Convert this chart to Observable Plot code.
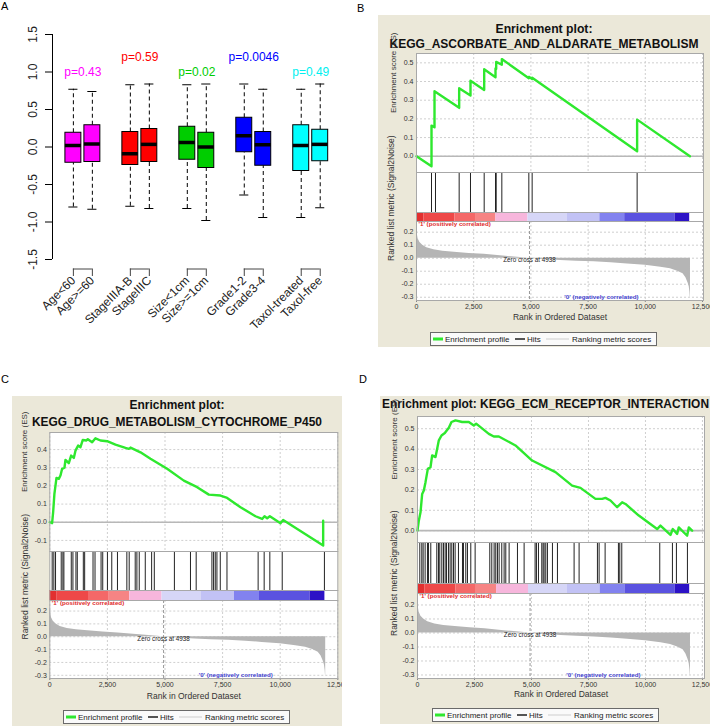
<!DOCTYPE html>
<html>
<head>
<meta charset="utf-8">
<script src="https://cdn.jsdelivr.net/npm/d3@7"></script>
<script src="https://cdn.jsdelivr.net/npm/@observablehq/plot@0.6"></script>
<style>
  body { margin: 0; background: #fff; font-family: "Liberation Sans", Arial, sans-serif; }
  #root { position: relative; width: 710px; height: 726px; overflow: hidden; background: #fff; }
  .lab { position: absolute; font-size: 11px; color: #000; }
</style>
</head>
<body>
<div id="root"></div>
<script>
// ---------------- Panel A data ----------------
const groupLabels = ["Age<60", "Age>=60", "StageIIIA-B", "StageIIIC", "Size<1cm", "Size>=1cm", "Grade1-2", "Grade3-4", "Taxol-treated", "Taxol-free"];
const boxMax    = [0.77, 0.74, 0.83, 0.84, 0.83, 0.84, 0.84, 0.77, 0.77, 0.84];
const boxQ3     = [0.19, 0.29, 0.20, 0.24, 0.27, 0.19, 0.39, 0.20, 0.29, 0.23];
const boxMedian = [0.02, 0.04, -0.09, 0.035, 0.06, 0.00, 0.15, 0.03, 0.02, 0.035];
const boxQ1     = [-0.21, -0.20, -0.24, -0.20, -0.17, -0.28, -0.07, -0.25, -0.32, -0.19];
const boxMin    = [-0.80, -0.83, -0.79, -0.82, -0.82, -0.98, -0.64, -0.94, -0.94, -0.81];
const pairColors = ["#ff00ff", "#ff0000", "#00cd00", "#0000ff", "#00f0f0"];
const boxFills   = ["#ff00ff", "#ff0000", "#00cd00", "#0000ff", "#00ffff"];
const pValueText = ["p=0.43", "p=0.59", "p=0.02", "p=0.0046", "p=0.49"];
const pValueY    = [1.0, 1.2, 1.0, 1.2, 1.0];
const yTicksA    = [-1.5, -1.0, -0.5, 0.0, 0.5, 1.0, 1.5];

// ---------------- GSEA shared data ----------------
const rankTicks = [0, 2500, 5000, 7500, 10000, 12500];
const metricTicks = [0.2, 0.1, 0.0, -0.1, -0.2, -0.3];
const metricRank  = [0, 30, 70, 150, 270, 450, 760, 1150, 1650, 2300, 2960, 3900, 4938, 5600, 6300, 7000, 7760, 8500, 9220, 10000, 10680, 11100, 11410, 11650, 11775, 11870, 11920, 11950, 11965, 11975];
const metricValue = [0.23, 0.19, 0.15, 0.12, 0.10, 0.08, 0.064, 0.054, 0.046, 0.037, 0.030, 0.015, 0.0, -0.010, -0.018, -0.023, -0.028, -0.035, -0.044, -0.055, -0.070, -0.082, -0.100, -0.120, -0.150, -0.190, -0.220, -0.260, -0.300, -0.300];
const zeroCross = 4938;
const barBreaks = [0, 320, 1680, 2580, 3470, 4870, 6580, 8015, 9100, 11300, 11940];
const barColors = ["#e23030", "#ee4848", "#f46868", "#f68484", "#f7b6dc", "#d6d6f7", "#c2c2f5", "#8282ef", "#5a52e0", "#2c12c6"];
const legendLabels = ["Enrichment profile", "Hits", "Ranking metric scores"];
const legendColors = ["#2ee82e", "#555555", "#dcdcdc"];

// ---------------- Panel B ----------------
const titleB = ["Enrichment plot:", "KEGG_ASCORBATE_AND_ALDARATE_METABOLISM"];
const esRankB  = [0, 656, 656, 787, 787, 1865, 1865, 2360, 2360, 2958, 2958, 3453, 3453, 3483, 3483, 3730, 3730, 4910, 4910, 5055, 5055, 9643, 9643, 11950];
const esValueB = [0, -0.054, 0.164, 0.155, 0.348, 0.259, 0.364, 0.325, 0.404, 0.355, 0.466, 0.423, 0.47, 0.468, 0.505, 0.49, 0.52, 0.418, 0.425, 0.413, 0.42, 0.027, 0.196, 0.0];
const hitsB = [656, 830, 1865, 2360, 2958, 3453, 3483, 3730, 4910, 5055, 9643];

// ---------------- Panel C ----------------
const titleC = ["Enrichment plot:", "KEGG_DRUG_METABOLISM_CYTOCHROME_P450"];
const esRankC  = [0, 100, 145, 200, 290, 390, 463, 535, 637, 680, 825, 926, 1042, 1114, 1230, 1331, 1432, 1592, 1650, 1838, 1982, 2200, 2489, 2850, 3285, 3430, 3502, 3936, 4370, 5093, 5817, 6396, 6902, 7409, 7698, 8277, 8928, 9217, 9319, 9434, 9550, 10013, 10129, 11865, 11865];
const esValueC = [0, -0.005, 0.055, 0.156, 0.244, 0.239, 0.257, 0.294, 0.30, 0.343, 0.325, 0.367, 0.354, 0.394, 0.422, 0.413, 0.453, 0.45, 0.457, 0.44, 0.462, 0.45, 0.446, 0.427, 0.409, 0.404, 0.411, 0.385, 0.349, 0.294, 0.229, 0.193, 0.152, 0.147, 0.134, 0.083, 0.033, 0.018, 0.033, 0.022, 0.033, -0.006, 0.013, -0.128, 0.009];
const hitsC = [103, 176, 249, 496, 568, 612, 932, 1004, 1135, 1193, 1455, 1513, 1876, 1963, 2225, 2298, 2501, 2690, 2937, 3344, 3446, 3707, 3780, 3882, 4144, 4420, 4536, 5408, 6106, 6353, 7036, 7109, 7181, 7254, 7399, 7690, 9042, 9304, 9550, 10088, 11919];

// ---------------- Panel D ----------------
const titleD = ["Enrichment plot: KEGG_ECM_RECEPTOR_INTERACTION"];
const esRankD  = [0, 58, 132, 205, 278, 351, 453, 570, 643, 789, 863, 936, 1053, 1199, 1374, 1491, 1667, 1959, 2251, 2471, 2573, 3129, 3348, 3567, 4298, 5029, 6053, 6784, 7149, 7807, 8099, 8246, 8465, 8757, 8977, 9123, 9708, 10512, 10658, 11097, 11199, 11389, 11462, 11828, 11901, 12047];
const esValueD = [0, 0.049, 0.09, 0.18, 0.197, 0.238, 0.303, 0.311, 0.369, 0.361, 0.402, 0.443, 0.467, 0.479, 0.505, 0.533, 0.541, 0.533, 0.533, 0.516, 0.525, 0.475, 0.462, 0.462, 0.418, 0.344, 0.287, 0.221, 0.21, 0.156, 0.156, 0.161, 0.148, 0.115, 0.139, 0.131, 0.074, 0.008, 0.025, -0.021, 0.008, -0.016, 0.016, -0.025, 0.016, 0.0];
const hitsD = [101, 189, 247, 335, 437, 481, 583, 846, 920, 978, 1066, 1139, 1212, 1271, 1358, 1431, 1504, 1578, 1651, 1797, 1973, 2016, 2118, 2192, 2338, 2528, 3171, 3259, 3361, 3434, 3508, 3581, 3697, 3800, 3873, 4019, 4385, 4677, 5159, 5218, 5306, 5452, 5510, 5554, 5627, 5700, 5920, 6139, 6870, 7089, 7893, 7967, 8230, 8814, 8873, 8961, 10627, 11183, 11358, 11841];

// ---------------- helpers ----------------
const FONT = "'Liberation Sans', Arial, sans-serif";
const BEIGE = "#ebe8d9";
const root = document.getElementById("root");
const plotStyle = {background: "transparent", overflow: "visible", fontFamily: FONT};
function place(el, x, y, parent = root) {
  el.style.position = "absolute";
  el.style.left = x + "px";
  el.style.top = y + "px";
  parent.appendChild(el);
  return el;
}
function label(text, x, y) {
  const d = document.createElement("div");
  d.className = "lab";
  d.textContent = text;
  d.style.left = x + "px";
  d.style.top = y + "px";
  root.appendChild(d);
}

// ---------------- Panel A ----------------
const posA = groupLabels.map((_, i) => Math.floor(i / 2) * 3 + (i % 2) + 1);
const boxData = groupLabels.map((g, i) => ({
  g, pos: posA[i], lo: boxMin[i], q1: boxQ1[i], med: boxMedian[i], q3: boxQ3[i], hi: boxMax[i],
  fill: boxFills[Math.floor(i / 2)]
}));
const pairData = pValueText.map((text, k) => ({text, a: posA[2 * k], b: posA[2 * k + 1], y: pValueY[k], color: pairColors[k]}));
const xMinA = -0.1;
const plotA = Plot.plot({
  width: 355, height: 340,
  marginLeft: 52, marginRight: 16.3, marginTop: 34, marginBottom: 71.5,
  x: {domain: [xMinA, 15], axis: null},
  y: {domain: [yTicksA[0], yTicksA[yTicksA.length - 1]], range: [259, 34], axis: null},
  color: {type: "identity"},
  style: {...plotStyle, fontSize: "12px"},
  marks: [
    Plot.ruleX([xMinA], {y1: yTicksA[0], y2: yTicksA[yTicksA.length - 1], stroke: "black"}),
    Plot.axisY({ticks: yTicksA, tickSize: 7, tickFormat: () => "", stroke: "black", label: null}),
    Plot.text(yTicksA, {x: xMinA, y: d => d, text: d => d.toFixed(1), rotate: -90, dx: -19, fontSize: 12, fill: "#222"}),
    Plot.ruleX(boxData, {x: "pos", y1: "q3", y2: "hi", stroke: "black", strokeDasharray: "4,3"}),
    Plot.ruleX(boxData, {x: "pos", y1: "lo", y2: "q1", stroke: "black", strokeDasharray: "4,3"}),
    Plot.ruleY(boxData, {y: "hi", x1: d => d.pos - 0.24, x2: d => d.pos + 0.24, stroke: "black"}),
    Plot.ruleY(boxData, {y: "lo", x1: d => d.pos - 0.24, x2: d => d.pos + 0.24, stroke: "black"}),
    Plot.rect(boxData, {x1: d => d.pos - 0.42, x2: d => d.pos + 0.42, y1: "q1", y2: "q3", fill: "fill", stroke: "black", strokeWidth: 1}),
    Plot.ruleY(boxData, {y: "med", x1: d => d.pos - 0.42, x2: d => d.pos + 0.42, stroke: "black", strokeWidth: 3.5}),
    Plot.text(pairData, {x: d => (d.a + d.b) / 2, y: "y", text: "text", fill: "color", fontSize: 12}),
    Plot.ruleY(pairData, {x1: "a", x2: "b", y: () => yTicksA[0], dy: 9.5, stroke: "#444"}),
    Plot.axisX({ticks: posA, tickSize: 7.5, tickPadding: 2, tickRotate: -45, fontSize: 12, stroke: "#444", fill: "#222", label: null,
      tickFormat: p => groupLabels[posA.indexOf(p)]})
  ]
});
place(plotA, 0, 0);

// ---------------- GSEA panel builder ----------------
function gseaPanel(cfg, titles, esRank, esValue, hits) {
  const W = cfg.R - cfg.L;
  const panel = document.createElement("div");
  panel.style.width = W + "px";
  panel.style.height = (cfg.B - cfg.T) + "px";
  panel.style.background = BEIGE;
  panel.style.overflow = "hidden";
  place(panel, cfg.L, cfg.T);
  const put = (el, y) => place(el, 0, y - cfg.T, panel);

  // titles
  const tsvg = d3.create("svg").attr("width", W).attr("height", 50).style("overflow", "visible");
  titles.forEach((t, i) => {
    tsvg.append("text").attr("x", cfg.tcx - cfg.L).attr("y", cfg.ty[i] - cfg.T)
      .attr("text-anchor", "middle").attr("font-family", FONT).attr("font-weight", "bold")
      .attr("font-size", 13).attr("textLength", cfg.tw[i]).attr("lengthAdjust", "spacingAndGlyphs")
      .attr("fill", "#111").text(t);
  });
  put(tsvg.node(), cfg.T);

  const base = {width: W, marginLeft: cfg.fx0 - cfg.L, marginRight: cfg.R - cfg.fx1, marginTop: 0, style: plotStyle};
  const x = {domain: [0, cfg.xMax], axis: null};
  const grid = {stroke: "#cfcfcf", strokeOpacity: 1, strokeDasharray: "2,2"};

  // ES plot
  const es = esRank.map((rank, i) => ({rank, value: esValue[i]}));
  const esPlot = Plot.plot({
    ...base, height: cfg.esBot - cfg.esTop, marginBottom: 0,
    x, y: {domain: cfg.esDomain, axis: null},
    marks: [
      Plot.frame({fill: "white"}),
      Plot.gridX({ticks: rankTicks, ...grid}),
      Plot.gridY({ticks: cfg.esTicks, ...grid}),
      Plot.ruleY([0], {stroke: "#b8b8b8", strokeWidth: 1.6}),
      Plot.axisY({ticks: cfg.esTicks, tickSize: 0, tickPadding: 3, fontSize: 7, fill: "#333", label: null, tickFormat: d => d.toFixed(1)}),
      Plot.line(es, {x: "rank", y: "value", stroke: "#2ee82e", strokeWidth: 2.4}),
      Plot.text(["Enrichment score (ES)"], {text: d => d, frameAnchor: "left", rotate: -90, dx: cfg.esLabelDx, fontSize: 8, fill: "#333"}),
      Plot.frame({stroke: "#a8a8a8"})
    ]
  });
  put(esPlot, cfg.esTop);

  // hits plot
  const hitsPlot = Plot.plot({
    ...base, height: cfg.barTop - cfg.esBot, marginBottom: 0,
    x,
    marks: [
      Plot.frame({fill: "white"}),
      Plot.ruleX(hits, {x: d => d, stroke: "#222", strokeWidth: 1, insetTop: 1}),
      Plot.frame({stroke: "#a8a8a8"})
    ]
  });
  put(hitsPlot, cfg.esBot);

  // colour bar
  const segs = barColors.map((c, i) => ({x1: barBreaks[i], x2: barBreaks[i + 1], c}));
  const barPlot = Plot.plot({
    ...base, height: cfg.barBot - cfg.barTop, marginBottom: 0,
    x, color: {type: "identity"},
    marks: [
      Plot.frame({fill: "white"}),
      Plot.rect(segs, {x1: "x1", x2: "x2", fill: "c", inset: 0}),
      Plot.frame({stroke: "#a8a8a8"})
    ]
  });
  put(barPlot, cfg.barTop);

  // ranked metric
  const met = metricRank.map((rank, i) => ({rank, value: metricValue[i]}));
  const metPlot = Plot.plot({
    ...base, height: cfg.metBot - cfg.barBot + 30, marginBottom: 30,
    x, y: {domain: [-0.325, 0.282], axis: null},
    marks: [
      Plot.frame({fill: "white"}),
      Plot.gridX({ticks: rankTicks, ...grid}),
      Plot.gridY({ticks: metricTicks, ...grid}),
      Plot.areaY(met, {x: "rank", y: "value", fill: "#b5b5b5"}),
      Plot.ruleX([zeroCross], {stroke: "#999", strokeDasharray: "3,2"}),
      Plot.axisY({ticks: metricTicks, tickSize: 0, tickPadding: 3, fontSize: 7, fill: "#333", label: null, tickFormat: d => d.toFixed(1)}),
      Plot.axisX({ticks: rankTicks, tickSize: 2, tickPadding: 2, fontSize: 7, fill: "#333", stroke: "#888", label: null, tickFormat: d3.format(",")}),
      Plot.text(["Rank in Ordered Dataset"], {text: d => d, frameAnchor: "bottom", dy: cfg.axisTitleDy, fontSize: 8.5, fill: "#333"}),
      Plot.text(["Ranked list metric (Signal2Noise)"], {text: d => d, frameAnchor: "left", rotate: -90, dx: cfg.metLabelDx, fontSize: 8.5, fill: "#333"}),
      Plot.text(["'1' (positively correlated)"], {text: d => d, frameAnchor: "top-left", textAnchor: "start", lineAnchor: "top", dx: 2, dy: 0.5, fontSize: 6.2, fontWeight: "bold", fill: "#e02a2a"}),
      Plot.text(["Zero cross at " + zeroCross], {text: d => d, x: () => zeroCross, y: () => 0, dy: 2, fontSize: 6.3, fill: "#222"}),
      Plot.text(["'0' (negatively correlated)"], {text: d => d, frameAnchor: "bottom-right", textAnchor: "end", lineAnchor: "bottom", dx: cfg.negDx, dy: -1.5, fontSize: 6.2, fontWeight: "bold", fill: "#4444d0"}),
      Plot.frame({stroke: "#a8a8a8"})
    ]
  });
  put(metPlot, cfg.barBot);

  // legend
  const lg = d3.create("svg").attr("width", 228).attr("height", 15);
  lg.append("rect").attr("x", 0.5).attr("y", 0.5).attr("width", 226).attr("height", 13)
    .attr("fill", "#fafafa").attr("stroke", "#6a6a6a");
  const sx = [[3, 13], [85, 95], [116, 139]];
  const tx = [15, 97, 142];
  const sw = [3, 2, 1.5];
  legendLabels.forEach((t, i) => {
    lg.append("line").attr("x1", sx[i][0]).attr("x2", sx[i][1]).attr("y1", 7).attr("y2", 7)
      .attr("stroke", legendColors[i]).attr("stroke-width", sw[i]);
    lg.append("text").attr("x", tx[i]).attr("y", 10).attr("font-family", FONT).attr("font-size", 8)
      .attr("fill", "#222").text(t);
  });
  place(lg.node(), cfg.lgx - cfg.L, cfg.lgy - cfg.T, panel);
}

gseaPanel({L: 378, T: 15, R: 710, B: 347, fx0: 416, fx1: 703, xMax: 12544,
  esTop: 53, esBot: 172, barTop: 212, barBot: 221, metBot: 300,
  esDomain: [-0.087, 0.55], esTicks: [0, 0.1, 0.2, 0.3, 0.4, 0.5],
  tcx: 544, ty: [32.5, 47.5], tw: [97, 309],
  esLabelDx: -23, metLabelDx: -25, axisTitleDy: 19, negDx: -65, lgx: 430, lgy: 332}, titleB, esRankB, esValueB, hitsB);

gseaPanel({L: 12, T: 396, R: 342, B: 726, fx0: 49.3, fx1: 337.3, xMax: 12500,
  esTop: 432, esBot: 551, barTop: 590, barBot: 600, metBot: 678,
  esDomain: [-0.161, 0.494], esTicks: [-0.1, 0, 0.1, 0.2, 0.3, 0.4],
  tcx: 177, ty: [408.5, 425.5], tw: [95, 290],
  esLabelDx: -25, metLabelDx: -25, axisTitleDy: 20, negDx: -65, lgx: 63, lgy: 710}, titleC, esRankC, esValueC, hitsC);

gseaPanel({L: 380, T: 396, R: 710, B: 724, fx0: 417, fx1: 704, xMax: 12590,
  esTop: 416, esBot: 542, barTop: 583, barBot: 593, metBot: 678,
  esDomain: [-0.058, 0.56], esTicks: [0, 0.1, 0.2, 0.3, 0.4, 0.5],
  tcx: 545.5, ty: [407.5], tw: [327],
  esLabelDx: -23, metLabelDx: -23, axisTitleDy: 18, negDx: -64, lgx: 432, lgy: 708}, titleD, esRankD, esValueD, hitsD);

label("A", 1, 0);
label("B", 357, 2);
label("C", 1, 373);
label("D", 359, 373);
</script>
</body>
</html>
